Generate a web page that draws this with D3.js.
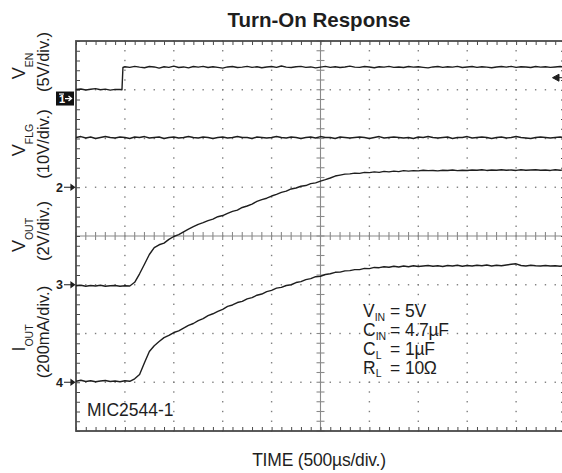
<!DOCTYPE html>
<html><head><meta charset="utf-8">
<script src="https://cdn.jsdelivr.net/npm/d3@7"></script>
<style>
html,body{margin:0;padding:0;background:#fff;}
svg{display:block;font-family:"Liberation Sans",Arial,Helvetica,sans-serif;}
</style></head>
<body>
<svg id="c" width="562" height="473"></svg>
<script>
// ---- data ----
const title = "Turn-On Response";
const xLabel = "TIME (500µs/div.)";
const timeTicks = [0,500,1000,1500,2000,2500,3000,3500,4000,4500,5000]; // µs, 500 µs/div
const divTicks = [-4,-3,-2,-1,0,1,2,3,4];

const t50 = [0,50,100,150,200,250,300,350,400,450,500,550,600,650,700,750,800,850,900,950,
1000,1050,1100,1150,1200,1250,1300,1350,1400,1450,1500,1550,1600,1650,1700,1750,1800,1850,1900,1950,
2000,2050,2100,2150,2200,2250,2300,2350,2400,2450,2500,2550,2600,2650,2700,2750,2800,2850,2900,2950,
3000,3050,3100,3150,3200,3250,3300,3350,3400,3450,3500,3550,3600,3650,3700,3750,3800,3850,3900,3950,
4000,4050,4100,4150,4200,4250,4300,4350,4400,4450,4500,4550,4600,4650,4700,4750,4800,4850,4900,4950,5000];

// CH1 V_EN (V)
const enTime = [0,50,100,150,200,250,300,350,400,450,470,480,500,550,600,650,700,750,800,850,900,950,
1000,1050,1100,1150,1200,1250,1300,1350,1400,1450,1500,1550,1600,1650,1700,1750,1800,1850,1900,1950,
2000,2050,2100,2150,2200,2250,2300,2350,2400,2450,2500,2550,2600,2650,2700,2750,2800,2850,2900,2950,
3000,3050,3100,3150,3200,3250,3300,3350,3400,3450,3500,3550,3600,3650,3700,3750,3800,3850,3900,3950,
4000,4050,4100,4150,4200,4250,4300,4350,4400,4450,4500,4550,4600,4650,4700,4750,4800,4850,4900,4950,5000];
const vEn = [0.92,0.98,0.88,0.95,1.02,0.90,0.96,0.86,0.94,0.92,0.90,3.18,3.26,3.20,3.30,3.22,3.16,3.28,3.24,3.12,3.26,3.20,
3.32,3.18,3.24,3.14,3.28,3.22,3.30,3.18,3.26,3.20,3.12,3.24,3.28,3.18,3.22,3.30,3.20,3.26,3.16,3.24,
3.28,3.20,3.34,3.22,3.18,3.26,3.30,3.20,3.24,3.14,3.22,3.30,3.20,3.26,3.18,3.24,3.32,3.22,3.20,3.28,
3.24,3.16,3.26,3.22,3.30,3.20,3.24,3.18,3.28,3.22,3.26,3.20,3.14,3.24,3.28,3.20,3.26,3.22,3.30,3.18,
3.24,3.28,3.20,3.26,3.22,3.16,3.24,3.28,3.22,3.30,3.20,3.26,3.24,3.18,3.28,3.22,3.26,3.20,3.24,3.28,3.22];

// CH2 V_FLG (V)
const vFlg = [10.2,10.4,10.1,10.3,10.0,10.2,10.4,10.2,10.1,10.3,10.2,10.0,10.3,10.2,10.4,10.1,10.2,10.3,10.0,10.2,
10.3,10.1,10.2,10.4,10.2,10.1,10.3,10.2,10.0,10.2,10.3,10.1,10.2,10.4,10.2,10.2,10.0,10.3,10.2,10.1,
10.2,10.4,10.2,10.1,10.3,10.2,10.0,10.2,10.3,10.1,10.4,10.2,10.2,10.0,10.3,10.2,10.1,10.2,10.3,10.2,
10.0,10.2,10.4,10.1,10.2,10.3,10.2,10.1,10.2,10.0,10.3,10.2,10.4,10.2,10.1,10.2,10.3,10.0,10.2,10.2,
10.4,10.1,10.2,10.3,10.2,10.0,10.2,10.3,10.1,10.2,10.4,10.2,10.1,10.0,10.2,10.3,10.2,10.1,10.2,10.3,10.2];

// CH3 V_OUT (V)
const vOut = [-0.04,-0.02,-0.06,-0.03,-0.05,-0.02,-0.06,-0.04,-0.03,-0.06,-0.04,-0.05,0.10,0.45,0.84,1.24,1.52,1.64,1.71,1.86,
1.98,2.06,2.17,2.28,2.38,2.48,2.55,2.63,2.69,2.79,2.84,2.93,3.01,3.06,3.17,3.23,3.31,3.42,3.49,3.55,
3.64,3.71,3.79,3.84,3.93,3.97,4.04,4.07,4.15,4.18,4.25,4.31,4.38,4.46,4.50,4.54,4.55,4.58,4.57,4.61,
4.60,4.63,4.61,4.65,4.63,4.66,4.64,4.68,4.66,4.68,4.67,4.70,4.68,4.69,4.67,4.70,4.69,4.71,4.68,4.70,
4.69,4.71,4.70,4.72,4.69,4.71,4.70,4.72,4.70,4.71,4.69,4.72,4.70,4.71,4.72,4.70,4.71,4.69,4.72,4.70,4.71];

// CH4 I_OUT (mA)
const iOut = [4,8,3,6,2,5,7,3,5,2,6,4,14,32,80,126,150,167,183,192,
204,211,222,233,241,253,261,273,281,291,299,311,317,327,332,342,347,357,362,372,
377,386,389,397,400,409,413,421,425,433,435,442,445,451,452,457,458,462,462,467,
466,471,470,474,472,476,473,477,474,478,475,477,479,476,478,475,479,477,480,476,
479,477,480,478,481,477,480,478,481,484,486,479,477,480,478,477,479,477,478,476,478];

// channel settings: ground marker level (div) and units per div
const channels = [
  {name:"1", time:enTime, values:vEn,  perDiv:5,   ground:2.82},
  {name:"2", time:t50,    values:vFlg, perDiv:10,  ground:1},
  {name:"3", time:t50,    values:vOut, perDiv:2,   ground:-1},
  {name:"4", time:t50,    values:iOut, perDiv:200, ground:-3}
];

const conditions = [
  {main:"V", sub:"IN", val:"5V"},
  {main:"C", sub:"IN", val:"4.7µF"},
  {main:"C", sub:"L",  val:"1µF"},
  {main:"R", sub:"L",  val:"10Ω"}
];
const chLabels = [
  {main:"V", sub:"EN",  scale:"(5V/div.)",    c1:66,  c2:62},
  {main:"V", sub:"FLG", scale:"(10V/div.)",   c1:140, c2:144},
  {main:"V", sub:"OUT", scale:"(2V/div.)",    c1:235, c2:231},
  {main:"I", sub:"OUT", scale:"(200mA/div.)", c1:338, c2:332}
];

// ---- drawing ----
const svg = d3.select("#c");
const L = 76, R = 565, T = 41, B = 431;
const x = d3.scaleLinear().domain([0,5000]).range([L,R]);
const y = d3.scaleLinear().domain([-4,4]).range([B,T]);
const ink = "#1e1e1e";

svg.append("defs").append("clipPath").attr("id","clip")
  .append("rect").attr("x",L).attr("y",T).attr("width",R-L).attr("height",B-T);

// dotted grid
const grid = svg.append("g").attr("fill","#7e7e7e");
const minorT = d3.range(0,5001,100);
const minorD = d3.range(-4,4.001,0.2);
timeTicks.slice(1,-1).forEach(t=>{
  if (t===2500) return;
  minorD.forEach(d=>grid.append("rect").attr("x",x(t)-0.7).attr("y",y(d)-0.7).attr("width",1.4).attr("height",1.4));
});
divTicks.slice(1,-1).forEach(d=>{
  if (d===0) return;
  minorT.forEach(t=>grid.append("rect").attr("x",x(t)-0.7).attr("y",y(d)-0.7).attr("width",1.4).attr("height",1.4));
});

// center axes with crossing ticks
const axC = "#8a8a8a";
const axH = svg.append("g").attr("stroke",axC).attr("stroke-width",1.1);
axH.append("line").attr("x1",L).attr("x2",R).attr("y1",y(0)).attr("y2",y(0));
axH.append("line").attr("x1",x(2500)).attr("x2",x(2500)).attr("y1",T).attr("y2",B);
minorT.forEach(t=>axH.append("line").attr("x1",x(t)).attr("x2",x(t)).attr("y1",y(0)-4).attr("y2",y(0)+4));
minorD.forEach(d=>axH.append("line").attr("x1",x(2500)-4).attr("x2",x(2500)+4).attr("y1",y(d)).attr("y2",y(d)));

// frame ticks via d3 axes
function frameAxis(axis, tr){
  const g = svg.append("g").attr("transform",tr).call(axis);
  g.selectAll("text").remove();
  g.select(".domain").remove();
  g.selectAll("line").attr("stroke","#4a4a4a").attr("stroke-width",1);
}
frameAxis(d3.axisBottom(x).tickValues(minorT).tickSize(4), `translate(0,${T})`);
frameAxis(d3.axisTop(x).tickValues(minorT).tickSize(4), `translate(0,${B})`);
frameAxis(d3.axisRight(y).tickValues(minorD).tickSize(4), `translate(${L},0)`);
frameAxis(d3.axisLeft(y).tickValues(minorD).tickSize(4), `translate(${R},0)`);
svg.append("rect").attr("x",L).attr("y",T).attr("width",R-L).attr("height",B-T)
  .attr("fill","none").attr("stroke","#4a4a4a").attr("stroke-width",1.8);

// traces
const traces = svg.append("g").attr("clip-path","url(#clip)");
channels.forEach(ch=>{
  const pts = ch.time.map((t,i)=>[t, ch.values[i]]).filter(p=>p[1]!==undefined);
  const line = d3.line().x(p=>x(p[0])).y(p=>y(ch.ground + p[1]/ch.perDiv));
  traces.append("path").datum(pts).attr("d",line)
    .attr("fill","none").attr("stroke",ink).attr("stroke-width",1.4).attr("stroke-linejoin","round");
});

// channel ground markers
channels.forEach(ch=>{
  const yy = y(ch.ground);
  if (ch.name==="1"){
    svg.append("rect").attr("x",56).attr("y",yy-7).attr("width",18).attr("height",14).attr("fill","#111");
    svg.append("text").attr("x",59).attr("y",yy+4.5).attr("fill","#fff").attr("font-size",11).attr("font-weight","bold").text("1");
    svg.append("line").attr("x1",59).attr("x2",64).attr("y1",yy-4.5).attr("y2",yy-4.5).attr("stroke","#fff").attr("stroke-width",1.2);
    svg.append("path").attr("d",`M65,${yy}H71M68.5,${yy-2.5}L71.5,${yy}L68.5,${yy+2.5}`).attr("stroke","#fff").attr("fill","none").attr("stroke-width",1.3);
  } else {
    svg.append("text").attr("x",56).attr("y",yy+4.5).attr("fill",ink).attr("font-size",12.5).attr("font-weight","bold").text(ch.name);
    svg.append("path").attr("d",`M64,${yy}H74M71,${yy-2.5}L74.5,${yy}L71,${yy+2.5}Z`).attr("stroke",ink).attr("fill",ink).attr("stroke-width",1.2);
  }
});

// trigger level arrow (right)
svg.append("path").attr("d","M552.5,77.7L559,74.2L559,81.2Z M559,77.7H562").attr("fill",ink).attr("stroke",ink).attr("stroke-width",1);

// title and axis label
svg.append("text").attr("x",319).attr("y",27).attr("text-anchor","middle")
  .attr("font-size",20.5).attr("font-weight","bold").attr("fill",ink).text(title);
svg.append("text").attr("x",319).attr("y",466).attr("text-anchor","middle")
  .attr("font-size",17.5).attr("letter-spacing",-0.2).attr("fill",ink).text(xLabel);

// channel labels (rotated)
chLabels.forEach(l=>{
  const g1 = svg.append("text").attr("transform",`translate(0,${l.c1}) rotate(-90)`)
    .attr("text-anchor","middle").attr("y",25).attr("fill",ink);
  g1.append("tspan").attr("font-size",18).text(l.main);
  g1.append("tspan").attr("font-size",10.5).attr("dy",8).text(l.sub);
  svg.append("text").attr("transform",`translate(0,${l.c2}) rotate(-90)`)
    .attr("text-anchor","middle").attr("y",48.5).attr("font-size",16.5).attr("fill",ink).text(l.scale);
});

// part number
svg.append("text").attr("x",87).attr("y",416).attr("font-size",17.5).attr("fill",ink).text("MIC2544-1");

// conditions block
const baseY = [317,336,355,373.5];
conditions.forEach((c,i)=>{
  const t = svg.append("text").attr("x",363).attr("y",baseY[i]).attr("fill",ink).attr("font-size",17.5);
  t.append("tspan").text(c.main);
  t.append("tspan").attr("font-size",10.5).attr("dy",3.5).text(c.sub);
  svg.append("text").attr("x",390).attr("y",baseY[i]).attr("fill",ink).attr("font-size",17.5).text("=");
  svg.append("text").attr("x",405).attr("y",baseY[i]).attr("fill",ink).attr("font-size",17.5)
    .attr("letter-spacing",-0.3).text(c.val);
});
</script>
</body></html>
